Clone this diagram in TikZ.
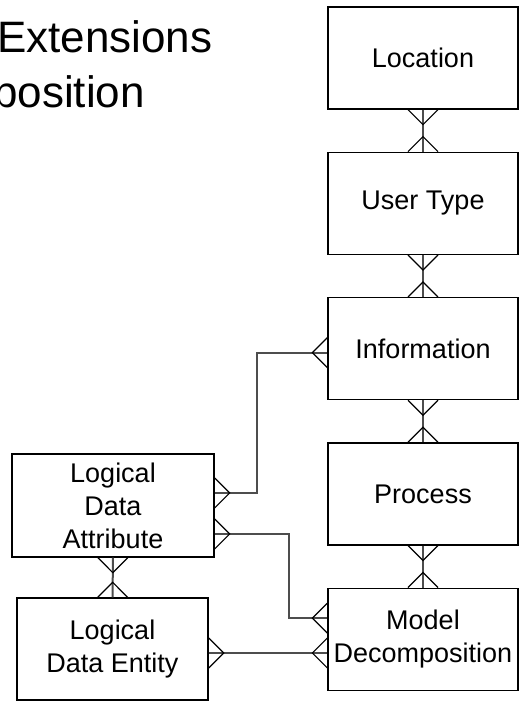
\documentclass[tikz,border=0pt]{standalone}
\usepackage{fontspec}
\setmainfont{Liberation Sans}
\usepackage{xcolor}
\usetikzlibrary{positioning,calc,decorations.markings}
\definecolor{ink}{HTML}{000000}
\definecolor{wire}{HTML}{4D4D4D}
\tikzset{
  entity/.style={
    draw=ink,
    line width=1.3pt,
    fill=white,
    align=center,
    minimum width=190pt,
    minimum height=102pt,
    inner sep=2pt,
    font=\fontsize{27}{33}\selectfont
  },
  title/.style={
    font=\fontsize{44}{54}\selectfont,
    inner sep=0pt,
    anchor=base west
  },
  foot/.style={
    draw=ink,
    line width=1.2pt
  },
  link/.style={
    draw=wire,
    line width=2pt
  },
  many to many/.style={
    link,
    postaction={decorate},
    decoration={markings,
      mark=at position 0 with {\draw[foot] (0,15pt) -- (15pt,0) -- (0,-15pt);},
      mark=at position 1 with {\draw[foot] (0,15pt) -- (-15pt,0) -- (0,-15pt);}
    }
  }
}

\begin{document}
\begin{tikzpicture}[x=1pt, y=1pt, node distance=42pt and 42pt]
\useasboundingbox (0,0) rectangle (519,702);

% ---------------------------------------------------------------------------
% Title (cut off at the left edge)
% ---------------------------------------------------------------------------
\node[title] (titletop) at (-3,649) {Extensions};
\node[title] (titlebottom) at (-7,594) {position};

% ---------------------------------------------------------------------------
% Right column
% ---------------------------------------------------------------------------
\node[entity] (location) at (423,644) {Location};
\node[entity, below=of location] (usertype) {User Type};
\node[entity, below=of usertype] (information) {Information};
\node[entity, below=of information] (process) {Process};
\node[entity, below=of process] (model) {Model\\Decomposition};

\draw[many to many] (location) -- (usertype);
\draw[many to many] (usertype) -- (information);
\draw[many to many] (information) -- (process);
\draw[many to many] (process) -- (model);

% ---------------------------------------------------------------------------
% Logical data
% ---------------------------------------------------------------------------
\node[entity, minimum width=202pt, minimum height=103pt] (attribute) at (113,196.5)
  {Logical\\Data\\Attribute};
\node[entity, minimum width=191pt] (entity) at (112.5,53)
  {Logical\\Data Entity};

\draw[many to many] (attribute) -- (entity);

\coordinate (attrup) at ([yshift=12.5pt]attribute.east);
\coordinate (attrdown) at ([yshift=-28.5pt]attribute.east);
\coordinate (entitylink) at ([yshift=-4pt]entity.east);

\draw[many to many] (attrup) -- ++(42pt,0) |- ([yshift=-4pt]information.west);
\draw[many to many] (attrdown) -- ++(74pt,0) |- ([yshift=21pt]model.west);
\draw[many to many] (entitylink) -- (entitylink -| model.west);

\end{tikzpicture}
\end{document}
